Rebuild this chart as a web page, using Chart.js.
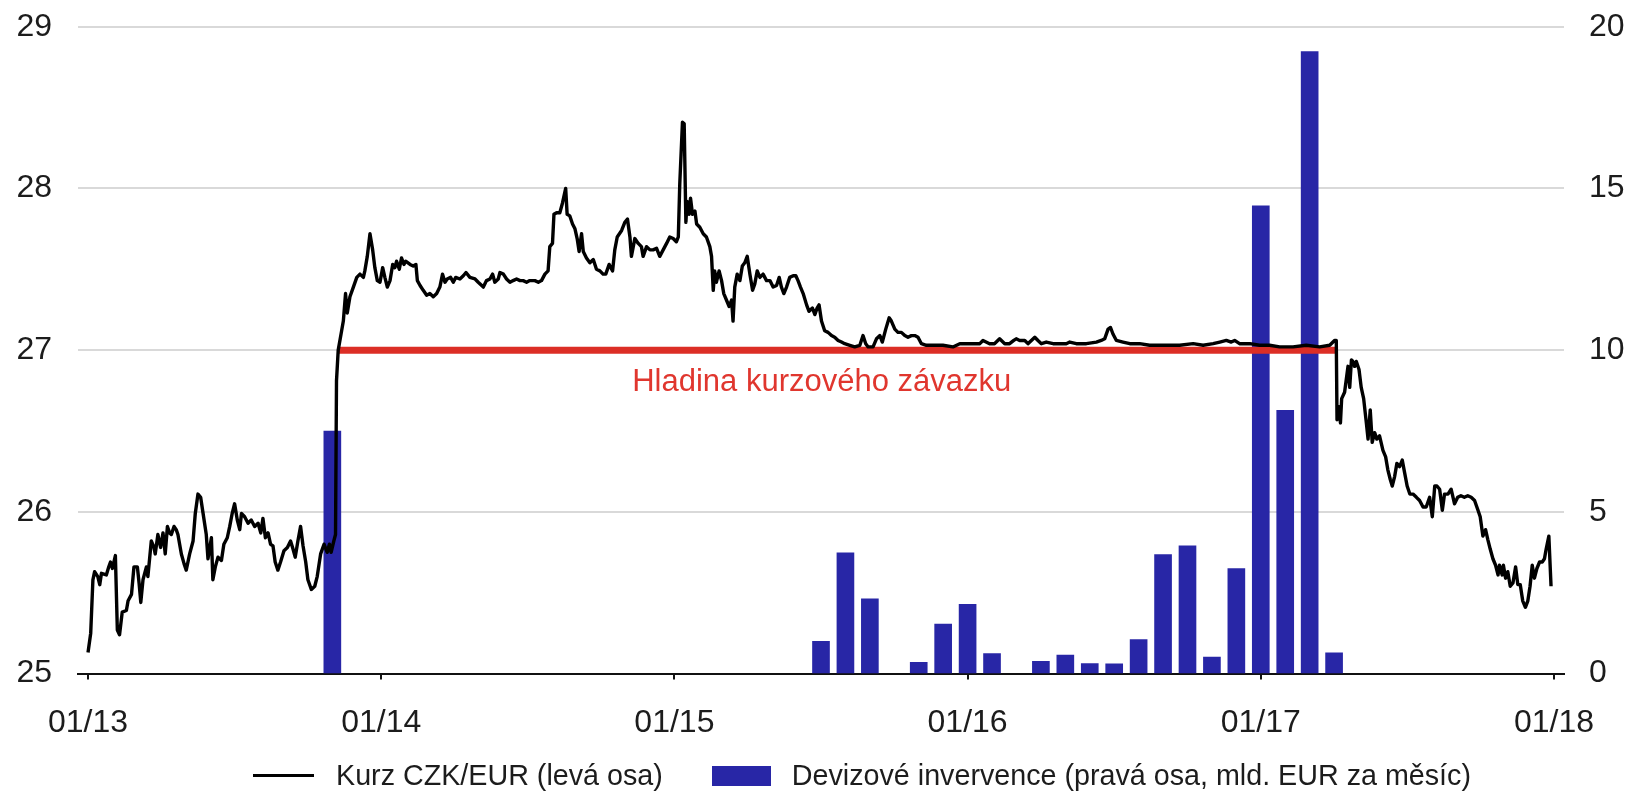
<!DOCTYPE html>
<html lang="cs">
<head>
<meta charset="utf-8">
<title>Kurz CZK/EUR a devizové intervence</title>
<script src="https://cdn.jsdelivr.net/npm/chart.js@4.4.1/dist/chart.umd.min.js"></script>
<style>
  html, body { margin: 0; padding: 0; background: #fff; }
  #wrap { position: relative; width: 1632px; height: 791px; }
  #legend {
    position: absolute; left: 253px; top: 759px;
    display: flex; align-items: center; white-space: nowrap;
    font: 28.7px "Liberation Sans", Arial, sans-serif; color: #1c1c1c;
  }
  .item { display: flex; align-items: center; margin-right: 49px; }
  .swatch { display: inline-block; margin-right: 22px; }
  .swatch.line { width: 61px; height: 3px; }
  .swatch.box { width: 59px; height: 20px; margin-right: 21px; }
</style>
</head>
<body>
<div id="wrap">
  <canvas id="chart" width="1632" height="791"></canvas>
  <div id="legend"></div>
</div>
<script>
// x axis = months since 1 Jan 2013
const tickMonths = [0, 12, 24, 36, 48, 60];
const tickLabels = ['01/13', '01/14', '01/15', '01/16', '01/17', '01/18'];

// Monthly FX interventions (bn EUR), bar sits at start of the month
const intervMonths = [10, 30, 31, 32, 34, 35, 36, 37, 39, 40, 41, 42, 43, 44, 45, 46, 47, 48, 49, 50, 51];
const intervValues = [7.5, 1.0, 3.73, 2.31, 0.35, 1.53, 2.14, 0.62, 0.38, 0.57, 0.31, 0.3, 1.05, 3.68, 3.95, 0.51, 3.25, 14.46, 8.14, 19.23, 0.64];

// CZK/EUR rate (month position, value)
const kurz13m = [0.0, 0.11, 0.2, 0.27, 0.4, 0.48, 0.55, 0.75, 0.85, 0.92,
  1.0, 1.12, 1.2, 1.29, 1.4, 1.57, 1.64, 1.78, 1.88, 2.02,
  2.09, 2.16, 2.25, 2.39, 2.45, 2.59, 2.7, 2.75, 2.86, 2.97,
  3.07, 3.16, 3.25, 3.34, 3.41, 3.52, 3.61, 3.68, 3.82, 3.93,
  4.02, 4.16, 4.3, 4.39, 4.5, 4.61, 4.7, 4.84, 4.91, 5.05,
  5.11, 5.21, 5.32, 5.46, 5.56, 5.7, 5.8, 5.9, 6.0, 6.11,
  6.21, 6.28, 6.41, 6.55, 6.68, 6.82, 6.96, 7.07, 7.16, 7.26,
  7.37, 7.47, 7.57, 7.66, 7.77, 7.88, 8.02, 8.16, 8.29, 8.39,
  8.48, 8.59, 8.7, 8.8, 8.91, 9.0, 9.14, 9.28, 9.38, 9.52,
  9.66, 9.79, 9.88, 9.95, 10.06, 10.13, 10.17, 10.24, 10.38, 10.45,
  10.54, 10.61, 10.72, 10.86, 11.0, 11.13, 11.27, 11.33, 11.43, 11.54,
  11.65, 11.74, 11.84, 11.95];
const kurz13v = [25.13, 25.25, 25.58, 25.63, 25.60, 25.55, 25.62, 25.61, 25.66, 25.69,
  25.65, 25.73, 25.27, 25.24, 25.38, 25.39, 25.45, 25.49, 25.66, 25.66,
  25.56, 25.44, 25.58, 25.66, 25.60, 25.82, 25.78, 25.74, 25.86, 25.78,
  25.87, 25.74, 25.91, 25.87, 25.86, 25.91, 25.89, 25.86, 25.74, 25.68,
  25.64, 25.74, 25.82, 25.99, 26.11, 26.09, 26.00, 25.86, 25.71, 25.84,
  25.58, 25.66, 25.72, 25.70, 25.80, 25.84, 25.91, 25.99, 26.05, 25.95,
  25.89, 25.99, 25.97, 25.93, 25.95, 25.91, 25.93, 25.87, 25.96, 25.84,
  25.87, 25.80, 25.79, 25.69, 25.64, 25.69, 25.76, 25.78, 25.82, 25.77,
  25.72, 25.82, 25.91, 25.79, 25.69, 25.58, 25.52, 25.54, 25.60, 25.74,
  25.80, 25.75, 25.80, 25.75, 25.82, 25.86, 26.81, 27.00, 27.12, 27.18,
  27.35, 27.23, 27.33, 27.39, 27.45, 27.47, 27.45, 27.49, 27.58, 27.72,
  27.62, 27.51, 27.43, 27.42];

const kurz14m = [12.06, 12.15, 12.25, 12.36, 12.47, 12.56, 12.63, 12.74, 12.83, 12.93,
  13.0, 13.18, 13.31, 13.42, 13.48, 13.59, 13.72, 13.86, 13.99, 14.13,
  14.27, 14.4, 14.51, 14.61, 14.7, 14.84, 14.95, 15.05, 15.22, 15.36,
  15.47, 15.63, 15.84, 15.97, 16.18, 16.31, 16.45, 16.56, 16.65, 16.79,
  16.86, 17.0, 17.13, 17.27, 17.4, 17.54, 17.68, 17.81, 17.95, 18.08,
  18.29, 18.43, 18.56, 18.7, 18.83, 18.9, 19.01, 19.07, 19.18, 19.31,
  19.42, 19.55, 19.61, 19.72, 19.83, 19.93, 20.02, 20.1, 20.2, 20.27,
  20.4, 20.54, 20.68, 20.81, 20.95, 21.08, 21.19, 21.33, 21.47, 21.56,
  21.66, 21.84, 21.97, 22.08, 22.18, 22.24, 22.38, 22.52, 22.65, 22.72,
  22.86, 23.0, 23.13, 23.27, 23.4, 23.54, 23.68, 23.81, 23.95];
const kurz14v = [27.51, 27.45, 27.39, 27.43, 27.53, 27.51, 27.55, 27.50, 27.57, 27.53,
  27.55, 27.53, 27.52, 27.53, 27.43, 27.40, 27.37, 27.34, 27.35, 27.33,
  27.35, 27.39, 27.47, 27.42, 27.44, 27.45, 27.42, 27.45, 27.44, 27.46,
  27.48, 27.45, 27.44, 27.42, 27.39, 27.43, 27.44, 27.47, 27.42, 27.44,
  27.48, 27.47, 27.44, 27.42, 27.43, 27.44, 27.43, 27.43, 27.42, 27.43,
  27.43, 27.42, 27.43, 27.47, 27.49, 27.64, 27.66, 27.84, 27.85, 27.85,
  27.91, 28.00, 27.84, 27.83, 27.78, 27.75, 27.69, 27.61, 27.72, 27.61,
  27.57, 27.54, 27.56, 27.50, 27.49, 27.47, 27.47, 27.53, 27.49, 27.62,
  27.70, 27.74, 27.79, 27.81, 27.70, 27.58, 27.69, 27.66, 27.64, 27.58,
  27.64, 27.62, 27.62, 27.63, 27.58, 27.62, 27.66, 27.70, 27.69];

const kurz15m = [24.08, 24.16, 24.22, 24.33, 24.40, 24.47, 24.52, 24.6, 24.66, 24.74,
  24.84, 24.91, 25.04, 25.18, 25.31, 25.45, 25.52, 25.59, 25.65, 25.72,
  25.83, 25.93, 26.02, 26.13, 26.24, 26.34, 26.4, 26.47, 26.57, 26.68,
  26.78, 26.88, 26.98, 27.09, 27.2, 27.29, 27.39, 27.5, 27.63, 27.77,
  27.91, 28.04, 28.18, 28.29, 28.38, 28.48, 28.59, 28.72, 28.86, 28.97,
  29.06, 29.16, 29.27, 29.41, 29.51, 29.65, 29.75, 29.84, 29.92, 30.02,
  30.15, 30.29, 30.43, 30.56, 30.7, 30.84, 30.97, 31.18, 31.38, 31.59,
  31.72, 31.83, 31.93, 32.13, 32.27, 32.41, 32.51, 32.65, 32.79, 32.88,
  33.02, 33.15, 33.29, 33.43, 33.56, 33.7, 33.84, 33.97, 34.11, 34.31,
  34.58, 34.99, 35.4, 35.68];
const kurz15v = [27.67, 27.70, 28.03, 28.41, 28.40, 27.79, 27.92, 27.84, 27.94, 27.84,
  27.86, 27.78, 27.76, 27.72, 27.70, 27.64, 27.58, 27.37, 27.49, 27.42,
  27.49, 27.43, 27.35, 27.31, 27.27, 27.31, 27.18, 27.39, 27.47, 27.43,
  27.52, 27.54, 27.58, 27.47, 27.37, 27.41, 27.49, 27.45, 27.47, 27.43,
  27.43, 27.39, 27.40, 27.45, 27.39, 27.35, 27.39, 27.45, 27.46, 27.46,
  27.43, 27.39, 27.35, 27.28, 27.24, 27.26, 27.22, 27.26, 27.28, 27.18,
  27.12, 27.11, 27.09, 27.08, 27.06, 27.05, 27.04, 27.03, 27.02, 27.03,
  27.09, 27.04, 27.02, 27.02, 27.07, 27.09, 27.05, 27.13, 27.20, 27.18,
  27.13, 27.11, 27.11, 27.09, 27.08, 27.09, 27.09, 27.08, 27.04, 27.03,
  27.03, 27.03, 27.02, 27.04];

const kurz16m = [36.09, 36.5, 36.63, 36.9, 37.1, 37.31, 37.52, 37.72, 37.89, 37.99,
  38.13, 38.34, 38.47, 38.61, 38.75, 38.88, 39.02, 39.22, 39.5, 39.77,
  40.04, 40.18, 40.45, 40.86, 41.27, 41.47, 41.61, 41.75, 41.85, 41.95,
  42.09, 42.36, 42.64, 43.04, 43.45, 43.86, 44.27, 44.68, 45.23, 45.64,
  46.05, 46.32, 46.59, 46.79, 46.93, 47.13, 47.55, 47.95];
const kurz16v = [27.04, 27.04, 27.06, 27.04, 27.04, 27.07, 27.04, 27.04, 27.06, 27.07,
  27.06, 27.06, 27.04, 27.06, 27.08, 27.06, 27.04, 27.05, 27.04, 27.04,
  27.04, 27.05, 27.04, 27.04, 27.05, 27.06, 27.07, 27.13, 27.14, 27.10,
  27.06, 27.05, 27.04, 27.04, 27.03, 27.03, 27.03, 27.03, 27.04, 27.03,
  27.04, 27.05, 27.06, 27.05, 27.06, 27.04, 27.04, 27.03];

const kurz17m = [48.36, 48.77, 49.32, 49.86, 50.41, 50.82, 51.02, 51.09, 51.12, 51.2,
  51.26, 51.31, 51.43, 51.57, 51.64, 51.71, 51.77, 51.84, 51.91, 52.02,
  52.11, 52.21, 52.32, 52.39, 52.48, 52.56, 52.66, 52.75, 52.86, 53.0,
  53.11, 53.2, 53.3, 53.38, 53.48, 53.57, 53.68, 53.79, 53.89, 53.99,
  54.1, 54.23, 54.37, 54.5, 54.64, 54.77, 54.91, 55.02, 55.12, 55.21,
  55.32, 55.43, 55.52, 55.66, 55.79, 55.93, 56.06, 56.19, 56.33, 56.47,
  56.61, 56.75, 56.89, 56.98, 57.09, 57.2, 57.29, 57.39, 57.5, 57.61,
  57.71, 57.77, 57.88, 57.93, 58.02, 58.11, 58.21, 58.32, 58.43, 58.52,
  58.62, 58.72, 58.83, 58.93, 59.02, 59.11, 59.2, 59.3, 59.41, 59.52,
  59.61, 59.68, 59.79, 59.88];
const kurz17v = [27.03, 27.02, 27.02, 27.03, 27.02, 27.03, 27.06, 27.06, 26.57, 26.65,
  26.55, 26.70, 26.74, 26.90, 26.77, 26.94, 26.93, 26.90, 26.93, 26.88,
  26.77, 26.70, 26.55, 26.45, 26.63, 26.43, 26.49, 26.45, 26.47, 26.38,
  26.34, 26.26, 26.20, 26.16, 26.22, 26.30, 26.28, 26.32, 26.24, 26.16,
  26.11, 26.11, 26.09, 26.07, 26.03, 26.03, 26.09, 25.97, 26.16, 26.16,
  26.14, 26.01, 26.11, 26.11, 26.14, 26.05, 26.09, 26.10, 26.09, 26.10,
  26.09, 26.07, 26.01, 25.97, 25.85, 25.89, 25.83, 25.77, 25.71, 25.67,
  25.61, 25.67, 25.61, 25.67, 25.59, 25.63, 25.54, 25.56, 25.66, 25.55,
  25.55, 25.45, 25.41, 25.45, 25.54, 25.67, 25.59, 25.65, 25.69, 25.69,
  25.71, 25.77, 25.85, 25.54];

// Exchange-rate floor (CZK/EUR 27) and where the label sits
const floorLevel = 27;
const floorFrom = 10.2, floorTo = 51.1;
const floorText = 'Hladina kurzového závazku';
const floorLabelAt = [30.03, 26.80];

const RED = '#dc2e26';
const BLUE = '#2826a6';
const TEXT = '#1c1c1c';
const GRID = '#d9d9d9';
const FONT = '"Liberation Sans", Arial, Helvetica, sans-serif';
const TICK_SIZE = 32;

Chart.defaults.font.family = FONT;
Chart.defaults.color = TEXT;

function toPoints(ms, vs) {
  return ms.map((m, i) => ({ x: m, y: vs[i] }));
}

const kurzPoints = [
  [kurz13m, kurz13v], [kurz14m, kurz14v], [kurz15m, kurz15v],
  [kurz16m, kurz16v], [kurz17m, kurz17v]
].flatMap(([ms, vs]) => toPoints(ms, vs));

// y axes: fixed width, and don't let the label padding push the plot area down
function fixYAxis(width) {
  return (axis) => {
    axis.width = width;
    axis.paddingTop = 0;
    axis.paddingBottom = 0;
  };
}

// Red label under the floor line
const floorLabel = {
  id: 'floorLabel',
  afterDatasetsDraw(chart) {
    const { ctx, scales } = chart;
    ctx.save();
    ctx.font = '31px ' + FONT;
    ctx.fillStyle = '#e0362e';
    ctx.textAlign = 'center';
    ctx.textBaseline = 'middle';
    ctx.fillText(floorText,
      scales.x.getPixelForValue(floorLabelAt[0]),
      scales.y.getPixelForValue(floorLabelAt[1]));
    ctx.restore();
  }
};

// Legend as HTML under the canvas (needs wider gaps than the canvas legend gives)
const htmlLegend = {
  id: 'htmlLegend',
  afterUpdate(chart) {
    const box = document.getElementById('legend');
    box.innerHTML = '';
    chart.options.plugins.legend.labels.generateLabels(chart)
      .filter(item => chart.data.datasets[item.datasetIndex].showInLegend !== false)
      .forEach(item => {
        const ds = chart.data.datasets[item.datasetIndex];
        const row = document.createElement('div');
        row.className = 'item';
        const sw = document.createElement('span');
        sw.className = ds.type === 'line' ? 'swatch line' : 'swatch box';
        sw.style.background = ds.type === 'line' ? item.strokeStyle : item.fillStyle;
        const txt = document.createElement('span');
        txt.textContent = item.text;
        row.append(sw, txt);
        box.appendChild(row);
      });
  }
};

new Chart(document.getElementById('chart'), {
  type: 'line',
  data: {
    datasets: [
      {
        type: 'line',
        label: 'Kurz CZK/EUR (levá osa)',
        data: kurzPoints,
        borderColor: '#000',
        backgroundColor: '#000',
        borderWidth: 3.4,
        borderJoinStyle: 'round',
        pointRadius: 0,
        tension: 0,
        yAxisID: 'y',
        order: 0
      },
      {
        type: 'bar',
        label: 'Devizové invervence (pravá osa, mld. EUR za měsíc)',
        data: toPoints(intervMonths, intervValues),
        backgroundColor: BLUE,
        borderWidth: 0,
        barThickness: 17,
        yAxisID: 'y2',
        order: 2
      },
      {
        type: 'line',
        label: floorText,
        showInLegend: false,
        data: [{ x: floorFrom, y: floorLevel }, { x: floorTo, y: floorLevel }],
        borderColor: RED,
        borderWidth: 7,
        pointRadius: 0,
        yAxisID: 'y',
        order: 1
      }
    ]
  },
  options: {
    responsive: false,
    animation: false,
    layout: { padding: { top: 26.7, bottom: 25, left: 0, right: 0 } },
    plugins: {
      legend: { display: false },
      tooltip: { enabled: false }
    },
    scales: {
      x: {
        type: 'linear',
        min: -0.41,
        max: 60.41,
        offset: false,
        afterBuildTicks: (axis) => { axis.ticks = tickMonths.map(v => ({ value: v })); },
        ticks: {
          autoSkip: false,
          maxRotation: 0,
          padding: 24,
          font: { size: TICK_SIZE },
          callback: (v) => tickLabels[tickMonths.indexOf(v)]
        },
        grid: { offset: false, drawOnChartArea: false, drawTicks: true, tickLength: 6, color: '#111', lineWidth: 2 },
        border: { display: true, color: '#111', width: 2 }
      },
      y: {
        position: 'left',
        min: 25,
        max: 29,
        afterFit: fixYAxis(78),
        ticks: { stepSize: 1, padding: 26, font: { size: TICK_SIZE } },
        grid: { color: GRID, lineWidth: 2, drawTicks: false },
        border: { display: false }
      },
      y2: {
        position: 'right',
        min: 0,
        max: 20,
        afterFit: fixYAxis(68),
        ticks: { stepSize: 5, padding: 25, font: { size: TICK_SIZE } },
        grid: { drawOnChartArea: false, drawTicks: false },
        border: { display: false }
      }
    }
  },
  plugins: [floorLabel, htmlLegend]
});
</script>
</body>
</html>
